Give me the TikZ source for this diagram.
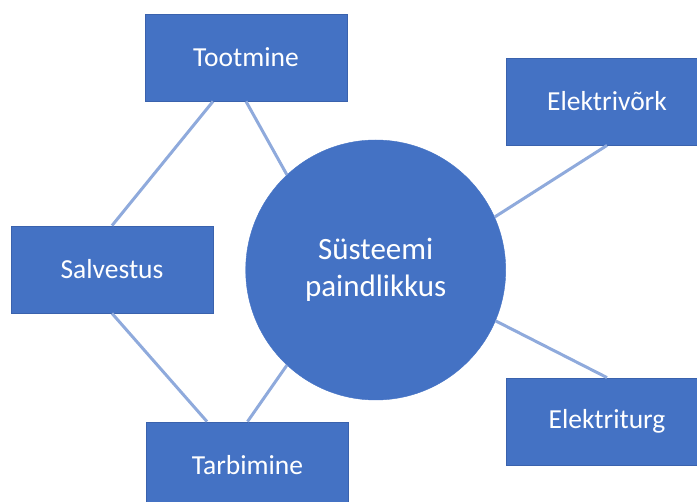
\documentclass[tikz,border=0pt]{standalone}
\usepackage{fontspec}
\setmainfont{Carlito}
\definecolor{boxblue}{HTML}{4472C4}
\definecolor{boxedge}{HTML}{3A62AD}
\definecolor{linkblue}{HTML}{8FAADC}
\tikzset{
    part/.style={rectangle, fill=boxblue, draw=boxedge, line width=0.8pt, minimum width=202pt, minimum height=87pt, text=white, font=\fontsize{27.5}{30}\selectfont},
    hub/.style={circle, fill=boxblue, draw=boxblue, minimum size=260pt, text=white, align=center, font=\fontsize{31}{37}\selectfont},
    link/.style={draw=linkblue, line width=3pt}
}
\begin{document}
\begin{tikzpicture}[x=1pt, y=-1pt]
    \useasboundingbox (0,0) rectangle (697,502);
    \clip (0,0) rectangle (697,502);
    \node[hub] (sys) at (375.7,270) {Süsteemi\\paindlikkus};
    \node[part] (toot) at (246,57.5) {Tootmine};
    \node[part] (elvork) at (607,101.5) {Elektrivõrk};
    \node[part] (salv) at (112,269.5) {Salvestus};
    \node[part] (tarb) at (247.5,465.5) {Tarbimine};
    \node[part] (elturg) at (607,421.5) {Elektriturg};
    \draw[link] ([xshift=-33pt]toot.south) -- (salv.north);
    \draw[link] (toot.south) -- (sys.133);
    \draw[link] (salv.south) -- ([xshift=-40.5pt]tarb.north);
    \draw[link] (tarb.north) -- (sys.227);
    \draw[link] (sys.24) -- (elvork.south);
    \draw[link] (sys.-23) -- (elturg.north);
\end{tikzpicture}
\end{document}
